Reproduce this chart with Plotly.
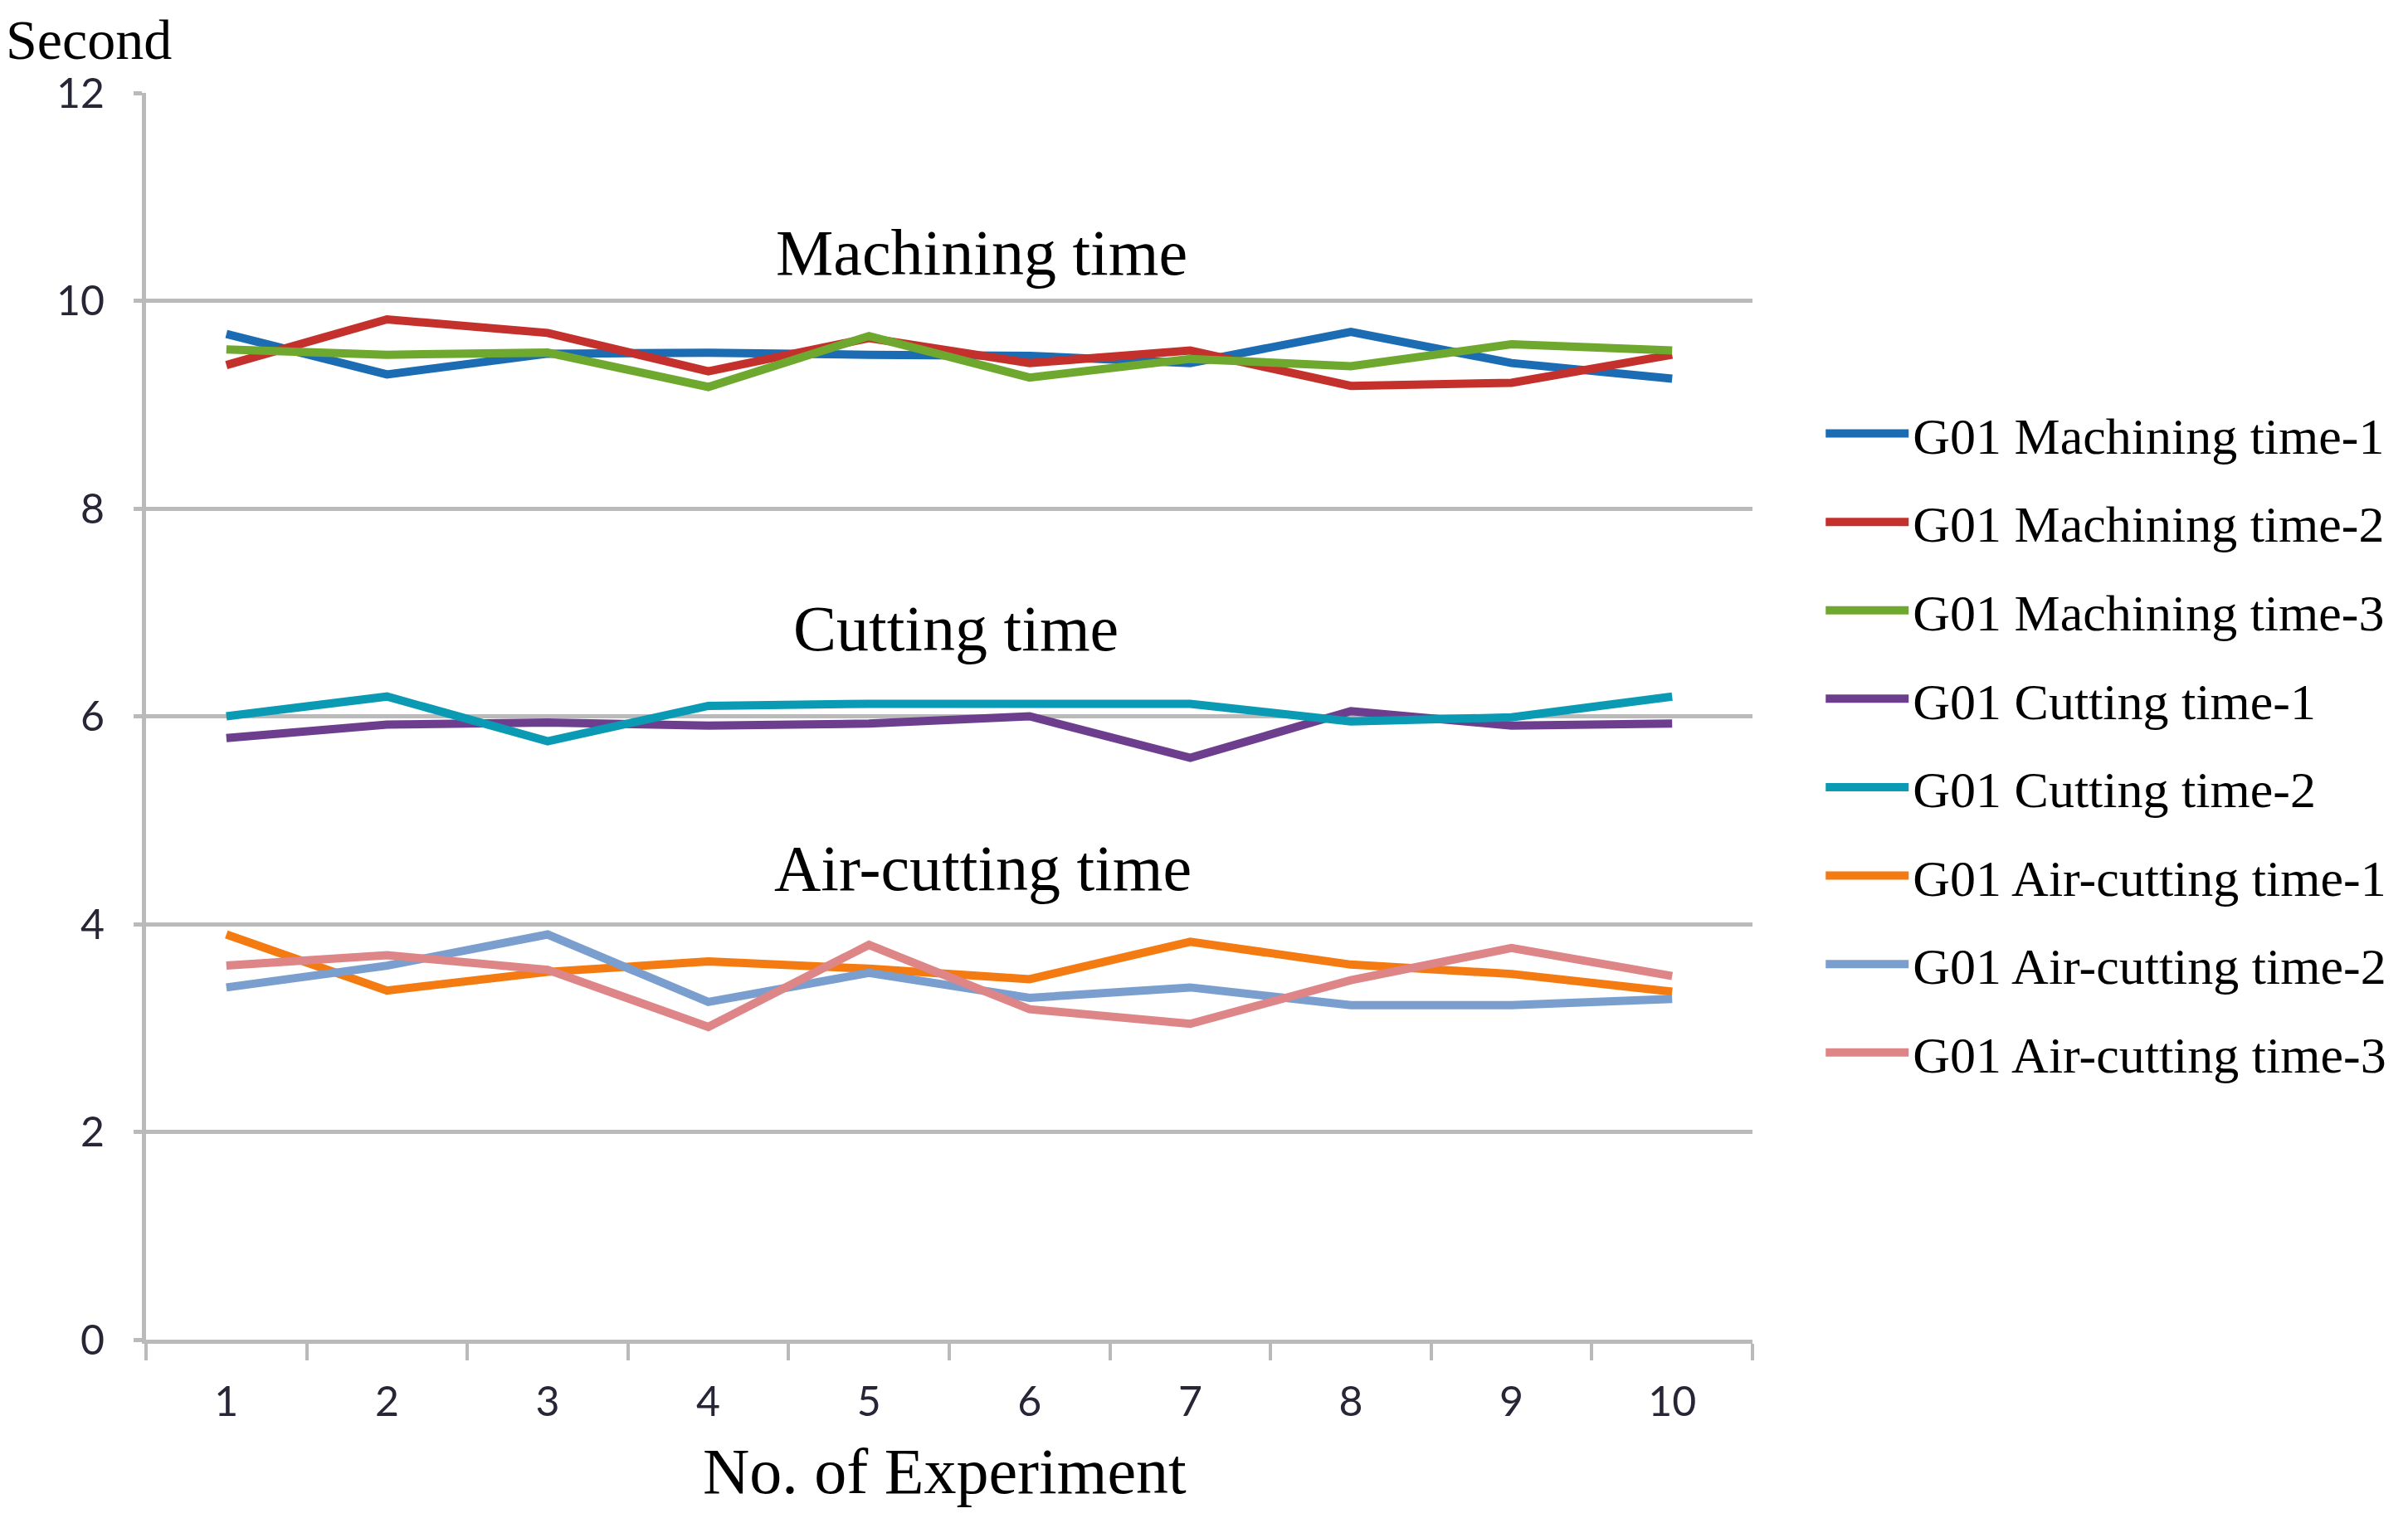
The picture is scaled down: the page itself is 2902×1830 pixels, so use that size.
import plotly.graph_objects as go

experiments = ["1", "2", "3", "4", "5", "6", "7", "8", "9", "10"]

machining_1 = [9.68, 9.29, 9.49, 9.50, 9.48, 9.47, 9.40, 9.70, 9.40, 9.25]
machining_2 = [9.38, 9.82, 9.69, 9.32, 9.64, 9.40, 9.52, 9.18, 9.21, 9.48]
machining_3 = [9.53, 9.48, 9.50, 9.17, 9.66, 9.26, 9.44, 9.37, 9.58, 9.52]
cutting_1 = [5.79, 5.92, 5.94, 5.91, 5.93, 6.00, 5.60, 6.05, 5.91, 5.93]
cutting_2 = [6.00, 6.19, 5.76, 6.10, 6.12, 6.13, 6.12, 5.95, 5.99, 6.19]
air_1 = [3.90, 3.36, 3.54, 3.64, 3.57, 3.47, 3.83, 3.61, 3.52, 3.35]
air_2 = [3.39, 3.60, 3.90, 3.25, 3.53, 3.29, 3.39, 3.22, 3.22, 3.28]
air_3 = [3.60, 3.70, 3.56, 3.01, 3.80, 3.18, 3.04, 3.46, 3.77, 3.50]

series_names = [
    "G01 Machining time-1", "G01 Machining time-2", "G01 Machining time-3",
    "G01 Cutting time-1", "G01 Cutting time-2",
    "G01 Air-cutting time-1", "G01 Air-cutting time-2", "G01 Air-cutting time-3",
]
series_values = [machining_1, machining_2, machining_3, cutting_1, cutting_2, air_1, air_2, air_3]
series_colors = ["#1B6CB3", "#C4302B", "#6FA82E", "#6E3E8E", "#0B9AB3", "#F47A12", "#7A9FCF", "#DE8587"]

group_labels = ["Machining time", "Cutting time", "Air-cutting time"]
group_label_x = [5.70, 5.54, 5.71]
group_label_y = [10.46, 6.85, 4.54]

serif = "Liberation Serif"

fig = go.Figure()
for i, (name, vals, col) in enumerate(zip(series_names, series_values, series_colors)):
    fig.add_trace(go.Scatter(
        x=experiments, y=vals, mode="lines", name=name,
        legendgroup="g%d" % i,
        line=dict(color=col, width=10),
    ))

for lab, lx, ly in zip(group_labels, group_label_x, group_label_y):
    fig.add_annotation(
        x=(lx - 1), y=ly, xref="x", yref="y", text=lab, showarrow=False,
        font=dict(family=serif, size=78, color="black"),
        xanchor="center", yanchor="middle",
    )

fig.add_annotation(
    x=-0.088, y=1.0688, xref="paper", yref="paper", text="Second", showarrow=False,
    font=dict(family=serif, size=68, color="black"), xanchor="left", yanchor="top",
    borderpad=0,
)
fig.add_annotation(
    x=0.497, y=-0.1057, xref="paper", yref="paper", text="No. of Experiment", showarrow=False,
    font=dict(family=serif, size=78, color="black"), xanchor="center", yanchor="middle",
)

fig.update_layout(
    width=2902, height=1830,
    margin=dict(l=168, r=798, t=104, b=223),
    paper_bgcolor="white", plot_bgcolor="white",
    showlegend=True,
    legend=dict(
        x=1.043, y=0.758, xanchor="left", yanchor="top",
        font=dict(family=serif, size=62, color="black"),
        tracegroupgap=23, itemwidth=100, bgcolor="rgba(0,0,0,0)",
    ),
    xaxis=dict(
        type="category", categoryorder="array", categoryarray=experiments,
        range=[-0.5, 9.5], showgrid=False,
        showline=True, linecolor="#BABABA", linewidth=5,
        ticks="outside", tickson="boundaries", ticklen=20, tickwidth=4, tickcolor="#BABABA",
        tickfont=dict(family="Lato", size=50, color="#262636"),
        ticklabelstandoff=27,
    ),
    yaxis=dict(
        range=[0, 12], tickvals=[0, 2, 4, 6, 8, 10, 12],
        showgrid=True, gridcolor="#BABABA", gridwidth=5,
        showline=True, linecolor="#BABABA", linewidth=5,
        zeroline=False,
        ticks="outside", ticklen=10, tickwidth=5, tickcolor="#BABABA",
        tickfont=dict(family="Lato", size=50, color="#262636"),
        ticklabelstandoff=25,
    ),
)

fig.write_html("out.html")
